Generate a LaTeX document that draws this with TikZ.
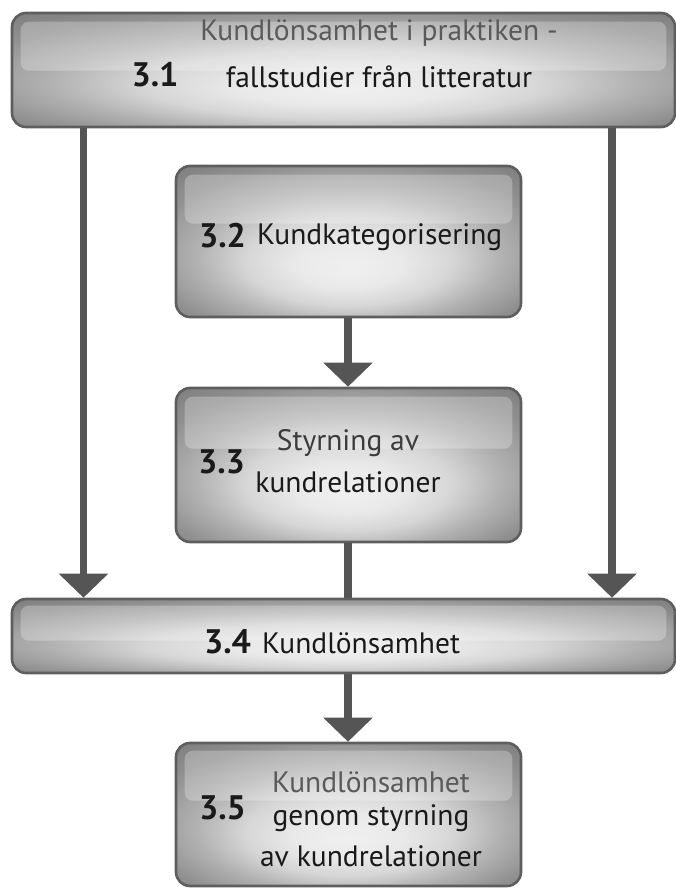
\documentclass[tikz,border=0pt]{standalone}
\usepackage{fontspec}
\setmainfont{PT Sans}
\usetikzlibrary{arrows.meta,calc}

\definecolor{rimcol}{HTML}{5E5E5E}
\definecolor{linkcol}{HTML}{555555}
\definecolor{inktop}{HTML}{5A5A5A}
\definecolor{inkdark}{HTML}{1A1A1A}
\definecolor{glowA}{HTML}{F0F0F0}
\definecolor{glowB}{HTML}{E9E9E9}
\definecolor{glowC}{HTML}{D6D6D6}
\definecolor{glowD}{HTML}{B2B2B2}
\definecolor{glowE}{HTML}{909090}
\definecolor{glowF}{HTML}{767676}

% brighter spot a little below the middle of every box
% (a path is mapped onto the square -25bp..25bp of the shading)
\pgfdeclareradialshading{boxglow}{\pgfpoint{0bp}{-9bp}}{%
  color(0bp)=(glowA); color(8bp)=(glowB); color(15bp)=(glowC);
  color(22bp)=(glowD); color(30bp)=(glowE); color(40bp)=(glowF);
  color(50bp)=(glowF)}

\tikzset{
  stepbox/.style={draw=rimcol, line width=2.6pt, rounded corners=14pt,
    shading=boxglow, rectangle, inner sep=0pt},
  gloss/.style={fill=white, fill opacity=0.26, rounded corners=8pt, draw=none},
  conn/.style={draw=linkcol, line width=7.5pt,
    -{Triangle[width=48pt,length=24pt]}},
  plainconn/.style={draw=linkcol, line width=7.5pt},
  num/.style={font=\fontsize{34}{34}\selectfont\bfseries, text=inkdark, inner sep=0pt},
  txt/.style={font=\fontsize{29.5}{29.5}\selectfont, text=inkdark, inner sep=0pt},
  txtlight/.style={txt, text=inktop},
}

\begin{document}
\begin{tikzpicture}[x=1pt,y=-1pt]
\useasboundingbox (0,0) rectangle (676,888);
\begin{scope}
\clip (0,0) rectangle (676,888);

% boxes
\node[stepbox, minimum width=663pt, minimum height=114pt] (b1) at (343.5,70) {};
\node[stepbox, minimum width=345pt, minimum height=151pt] (b2) at (348.5,241.5) {};
\node[stepbox, minimum width=345pt, minimum height=154pt] (b3) at (348.5,465) {};
\node[stepbox, minimum width=663pt, minimum height=74pt] (b4) at (343.5,636) {};
\node[stepbox, minimum width=345pt, minimum height=143pt] (b5) at (348.5,814.5) {};

% glossy bands along the upper part of each box
\path[gloss] ($(b1.north west)+(10pt,-10pt)$) rectangle ($(b1.north east)+(-10pt,-59pt)$);
\path[gloss] ($(b2.north west)+(10pt,-10pt)$) rectangle ($(b2.north east)+(-10pt,-59pt)$);
\path[gloss] ($(b3.north west)+(10pt,-10pt)$) rectangle ($(b3.north east)+(-10pt,-62pt)$);
\path[gloss] ($(b4.north west)+(10pt,-8pt)$) rectangle ($(b4.north east)+(-10pt,-43pt)$);
\path[gloss] ($(b5.north west)+(10pt,-9pt)$) rectangle ($(b5.north east)+(-10pt,-59pt)$);

% connectors
\coordinate (l1) at (83.5,0);
\coordinate (r1) at (612,0);
\coordinate (m1) at (348,0);
\draw[conn] (b1.south -| l1) -- (b4.north -| l1);
\draw[conn] (b1.south -| r1) -- (b4.north -| r1);
\draw[conn] (b2.south -| m1) -- (b3.north -| m1);
\draw[plainconn] (b3.south -| m1) -- (b4.north -| m1);
\draw[conn] (b4.south -| m1) -- (b5.north -| m1);

% labels
\node[num] (n1) at (155,75) {3.1};
\node[txtlight] (t1a) at (379,33) {Kundlönsamhet i praktiken -};
\node[txt] (t1b) at (379,77) {fallstudier från litteratur};

\node[num] (n2) at (222.5,236) {3.2};
\node[txt, anchor=west] (t2) at (257,237) {Kundkategorisering};

\node[num] (n3) at (221.5,462) {3.3};
\node[txt, text=inkdark!85!white] (t3a) at (348,443) {Styrning av};
\node[txt] (t3b) at (348,482) {kundrelationer};

\node[num] (n4) at (227.5,642) {3.4};
\node[txt, anchor=west] (t4) at (262,643) {Kundlönsamhet};

\node[txtlight] (t5a) at (371,782) {Kundlönsamhet};
\node[num] (n5) at (222.5,808) {3.5};
\node[txt] (t5b) at (371,818) {genom styrning};
\node[txt] (t5c) at (371,856) {av kundrelationer};
\end{scope}
\end{tikzpicture}
\end{document}
